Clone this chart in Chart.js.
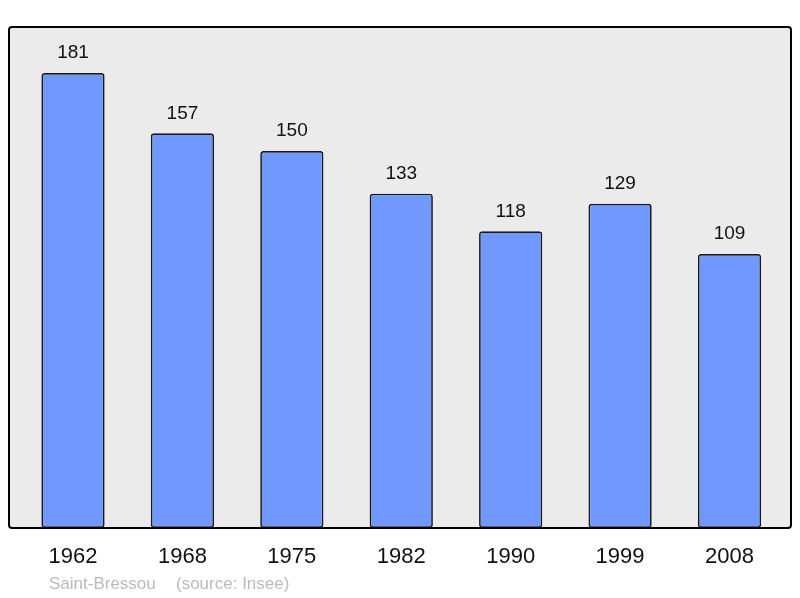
<!DOCTYPE html>
<html>
<head>
    <title>Saint-Bressou population</title>
    <script src="https://cdn.jsdelivr.net/npm/chart.js"></script>
    <style>
        body {
            margin: 0;
            background-color: #ffffff;
        }
        #wrap {
            width: 800px;
            height: 598px;
        }
    </style>
</head>
<body>
    <div id="wrap">
        <canvas id="popChart" width="800" height="598"></canvas>
    </div>

    <script>
        const years = ['1962', '1968', '1975', '1982', '1990', '1999', '2008'];
        const population = [181, 157, 150, 133, 118, 129, 109];
        const placeName = 'Saint-Bressou';
        const sourceText = '(source: Insee)';

        // background box behind the bars and its frame on top
        const frameBox = {
            id: 'frameBox',
            beforeDatasetsDraw(chart) {
                const a = chart.chartArea;
                const ctx = chart.ctx;
                ctx.save();
                ctx.fillStyle = '#ebebeb';
                ctx.fillRect(a.left, a.top, a.right - a.left, a.bottom - a.top);
                ctx.restore();
            },
            afterDatasetsDraw(chart) {
                const a = chart.chartArea;
                const ctx = chart.ctx;
                ctx.save();
                ctx.strokeStyle = '#000000';
                ctx.lineWidth = 2;
                ctx.beginPath();
                ctx.roundRect(a.left, a.top, a.right - a.left, a.bottom - a.top, 3);
                ctx.stroke();

                // value labels above bars
                const meta = chart.getDatasetMeta(0);
                ctx.fillStyle = '#111111';
                ctx.font = '19px "Liberation Sans", Arial, sans-serif';
                ctx.textAlign = 'center';
                ctx.textBaseline = 'middle';
                meta.data.forEach((bar, i) => {
                    ctx.fillText(String(population[i]), bar.x, bar.y - 20);
                });

                // footer
                ctx.fillStyle = '#bbbbbb';
                ctx.font = '17px "Liberation Sans", Arial, sans-serif';
                ctx.textAlign = 'left';
                ctx.fillText(placeName, 49, 584);
                ctx.fillText(sourceText, 176, 584);
                ctx.restore();
            }
        };

        const ctx = document.getElementById('popChart').getContext('2d');
        new Chart(ctx, {
            type: 'bar',
            data: {
                labels: years,
                datasets: [{
                    data: population.map((v, i) => ({ x: i, y: v })),
                    backgroundColor: '#7198ff',
                    borderColor: '#1a1a1a',
                    borderWidth: 1.7,
                    borderRadius: 3,
                    borderSkipped: false,
                    barPercentage: 0.578,
                    categoryPercentage: 1
                }]
            },
            options: {
                responsive: false,
                animation: false,
                layout: {
                    padding: { left: 9, right: 9, top: 27, bottom: 0 }
                },
                plugins: {
                    legend: { display: false },
                    tooltip: { enabled: false }
                },
                scales: {
                    x: {
                        type: 'linear',
                        offset: false,
                        min: -0.585,
                        max: 6.562,
                        grid: { display: false, drawTicks: false },
                        border: { display: false },
                        afterBuildTicks(scale) {
                            scale.ticks = years.map((y, i) => ({ value: i }));
                        },
                        afterFit(scale) {
                            scale.height = 70;
                        },
                        ticks: {
                            padding: 16,
                            color: '#111111',
                            font: { family: '"Liberation Sans", Arial, sans-serif', size: 22 },
                            callback: (v) => years[v]
                        }
                    },
                    y: {
                        display: false,
                        min: 0,
                        max: 199.3
                    }
                }
            },
            plugins: [frameBox]
        });
    </script>
</body>
</html>
